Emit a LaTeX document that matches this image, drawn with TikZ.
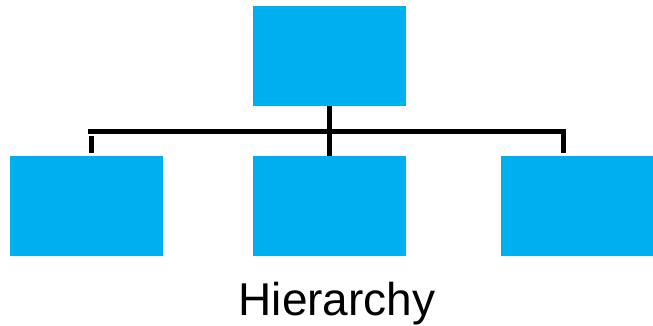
\documentclass[tikz,border=0pt]{standalone}
\usepackage{fontspec}
\setmainfont{Liberation Sans}
\usepackage{tikz}
\definecolor{boxblue}{RGB}{0,175,240}

\begin{document}
\begin{tikzpicture}[x=1pt,y=-1pt,
  unit/.style={fill=boxblue, minimum width=153pt, minimum height=100pt, inner sep=0pt},
  link/.style={line width=4.6pt}]
\useasboundingbox (0,0) rectangle (653,326);

\node[unit] (head) at (329.5,56) {};
\node[unit] (left) at (86.5,205.5) {};
\node[unit] (mid) at (329.5,206) {};
\node[unit, minimum width=152pt] (right) at (577,205.5) {};

\coordinate (barL) at (88,131.5);
\coordinate (barR) at (566,131.5);
\coordinate (tickL) at (91.5,136);
\coordinate (tickR) at (563.5,131.5);

\draw[link] (barL) -- (barR);
\draw[link] (head.south) -- (mid.north);
\draw[link] (tickL) -- (tickL |- 0,153);
\draw[link] (tickR) -- (tickR |- 0,153);

\node[anchor=base, font=\fontsize{46}{50}\selectfont] (name) at (337,315) {Hierarchy};
\end{tikzpicture}
\end{document}
